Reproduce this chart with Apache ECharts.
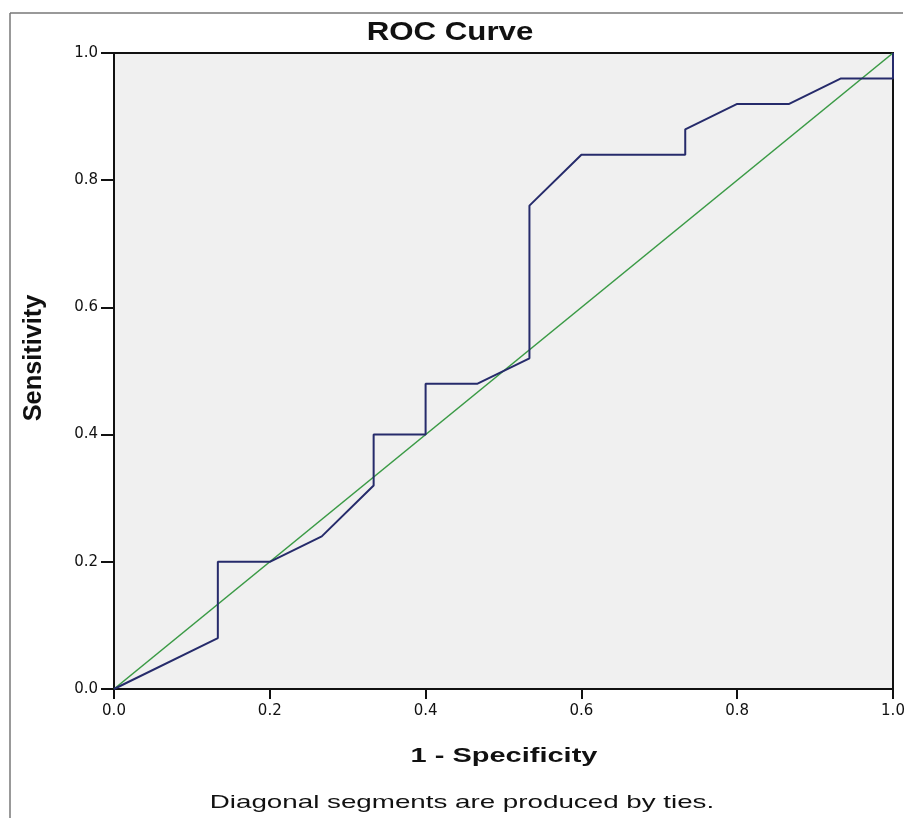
<!DOCTYPE html>
<html>
<head>
<meta charset="utf-8">
<script src="https://cdn.jsdelivr.net/npm/echarts@6/dist/echarts.min.js"></script>
<style>html,body{margin:0;padding:0;background:#fff;}#c{width:911px;height:818px;}</style>
</head>
<body>
<div id="c"></div>
<script>
const titleText = 'ROC Curve';
const xName = '1 - Specificity';
const yName = 'Sensitivity';
const footnote = 'Diagonal segments are produced by ties.';
const fpr = [0, 0.1333, 0.1333, 0.2, 0.2667, 0.3333, 0.3333, 0.4, 0.4, 0.4667, 0.5333, 0.5333, 0.6, 0.7333, 0.7333, 0.8, 0.8667, 0.9333, 1, 1];
const tpr = [0, 0.08, 0.2, 0.2, 0.24, 0.32, 0.4, 0.4, 0.48, 0.48, 0.52, 0.76, 0.84, 0.84, 0.88, 0.92, 0.92, 0.96, 0.96, 1];
const refX = [0, 1];
const refY = [0, 1];

const font = 'Liberation Sans, Arial, sans-serif';
const tickFont = 'DejaVu Sans, sans-serif';
const chart = echarts.init(document.getElementById('c'));
chart.setOption({
  animation: false,
  backgroundColor: '#ffffff',
  grid: {
    left: 114, top: 53, width: 779, height: 636,
    show: true, backgroundColor: '#f0f0f0', borderColor: '#111', borderWidth: 2
  },
  xAxis: {
    type: 'value', min: 0, max: 1, interval: 0.2,
    axisLine: {show: true, lineStyle: {color: '#111', width: 2}},
    axisTick: {show: true, length: 10, lineStyle: {color: '#111', width: 2}},
    axisLabel: {margin: 15, fontFamily: tickFont, fontSize: 15, color: '#111', formatter: v => v.toFixed(1)},
    splitLine: {show: false}
  },
  yAxis: {
    type: 'value', min: 0, max: 1, interval: 0.2,
    axisLine: {show: true, lineStyle: {color: '#111', width: 2}},
    axisTick: {show: true, length: 13, lineStyle: {color: '#111', width: 2}},
    axisLabel: {margin: 16, fontFamily: tickFont, fontSize: 15, color: '#111', formatter: v => v.toFixed(1)},
    splitLine: {show: false}
  },
  graphic: [
    {type: 'line', shape: {x1: 10, y1: 13, x2: 10, y2: 818}, style: {stroke: '#777', lineWidth: 1.5}},
    {type: 'line', shape: {x1: 10, y1: 13, x2: 903, y2: 13}, style: {stroke: '#777', lineWidth: 1.5}},
    {type: 'text', x: 450, y: 33, scaleX: 1.25, scaleY: 1.05,
      style: {text: titleText, fontFamily: font, fontSize: 25, fontWeight: 'bold', fill: '#111', align: 'center', verticalAlign: 'middle'}},
    {type: 'text', x: 504, y: 756, scaleX: 1.38,
      style: {text: xName, fontFamily: font, fontSize: 21, fontWeight: 'bold', fill: '#111', align: 'center', verticalAlign: 'middle'}},
    {type: 'text', x: 34, y: 358, rotation: Math.PI / 2, scaleX: 1.15, scaleY: 1.15,
      style: {text: yName, fontFamily: font, fontSize: 22, fontWeight: 'bold', fill: '#111', align: 'center', verticalAlign: 'middle'}},
    {type: 'text', x: 462, y: 803, scaleX: 1.5,
      style: {text: footnote, fontFamily: font, fontSize: 18.5, fill: '#111', align: 'center', verticalAlign: 'middle'}}
  ],
  series: [
    {
      type: 'line', data: refX.map((x, i) => [x, refY[i]]), symbol: 'none',
      lineStyle: {color: '#3a9a45', width: 1.6}, z: 2
    },
    {
      type: 'line', data: fpr.map((x, i) => [x, tpr[i]]), symbol: 'none',
      lineStyle: {color: '#262b6b', width: 2}, z: 3
    }
  ]
});
</script>
</body>
</html>
